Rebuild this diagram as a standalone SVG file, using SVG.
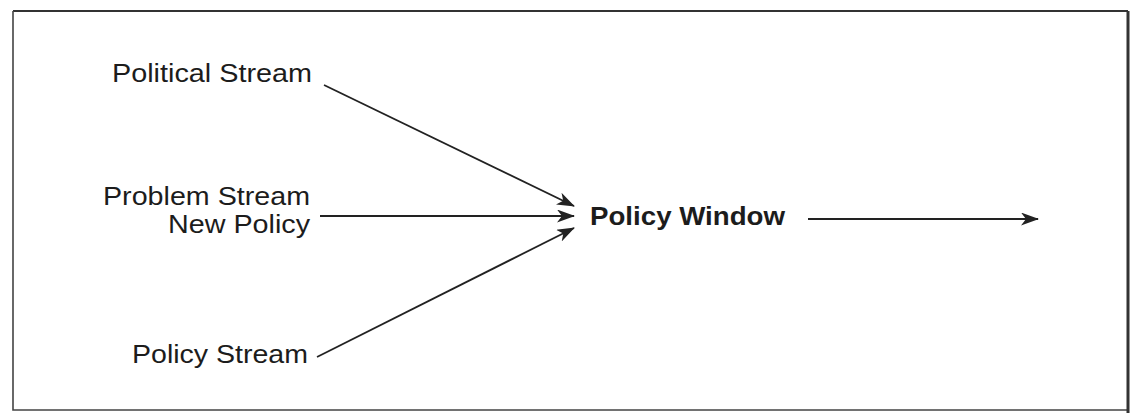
<svg xmlns="http://www.w3.org/2000/svg" width="1131" height="413" viewBox="0 0 1131 413">
<style>
.lbl{font-family:"Liberation Sans",Arial,sans-serif;font-size:26px;fill:#1c1c1c}
.bold{font-weight:bold}
.con{stroke:#222;stroke-width:1.8;fill:none}
</style>
<defs>
<marker id="ah" markerWidth="18" markerHeight="13" refX="17" refY="6.5" orient="auto" markerUnits="userSpaceOnUse">
<path d="M0,0 L18,6.5 L0,13 L5,6.5 Z" fill="#222"/>
</marker>
</defs>
<rect x="0" y="0" width="1131" height="413" fill="#fff"/>
<g id="frame">
<path d="M13,11 L1128,11" stroke="#333" stroke-width="2"/>
<path d="M13,11 L13,410 L1128,410" stroke="#444" stroke-width="1.6" fill="none"/>
<path d="M1128,11 L1128,413" stroke="#333" stroke-width="3"/>
</g>
<g id="political">
<text class="lbl" x="112" y="82" textLength="200" lengthAdjust="spacingAndGlyphs">Political Stream</text>
</g>
<g id="problem">
<text class="lbl" x="310" y="205" text-anchor="end" textLength="207" lengthAdjust="spacingAndGlyphs">Problem Stream</text>
<text class="lbl" x="310" y="233" text-anchor="end" textLength="142" lengthAdjust="spacingAndGlyphs">New Policy</text>
</g>
<g id="policy">
<text class="lbl" x="132" y="363" textLength="176" lengthAdjust="spacingAndGlyphs">Policy Stream</text>
</g>
<g id="window">
<text class="lbl bold" x="590" y="225" textLength="195" lengthAdjust="spacingAndGlyphs">Policy Window</text>
</g>
<g id="connectors">
<line class="con" x1="324" y1="85" x2="574" y2="206" marker-end="url(#ah)"/>
<line class="con" x1="320" y1="216" x2="574" y2="216" marker-end="url(#ah)"/>
<line class="con" x1="317" y1="357" x2="574" y2="228" marker-end="url(#ah)"/>
<line class="con" x1="808" y1="219" x2="1038" y2="219" marker-end="url(#ah)"/>
</g>
</svg>
